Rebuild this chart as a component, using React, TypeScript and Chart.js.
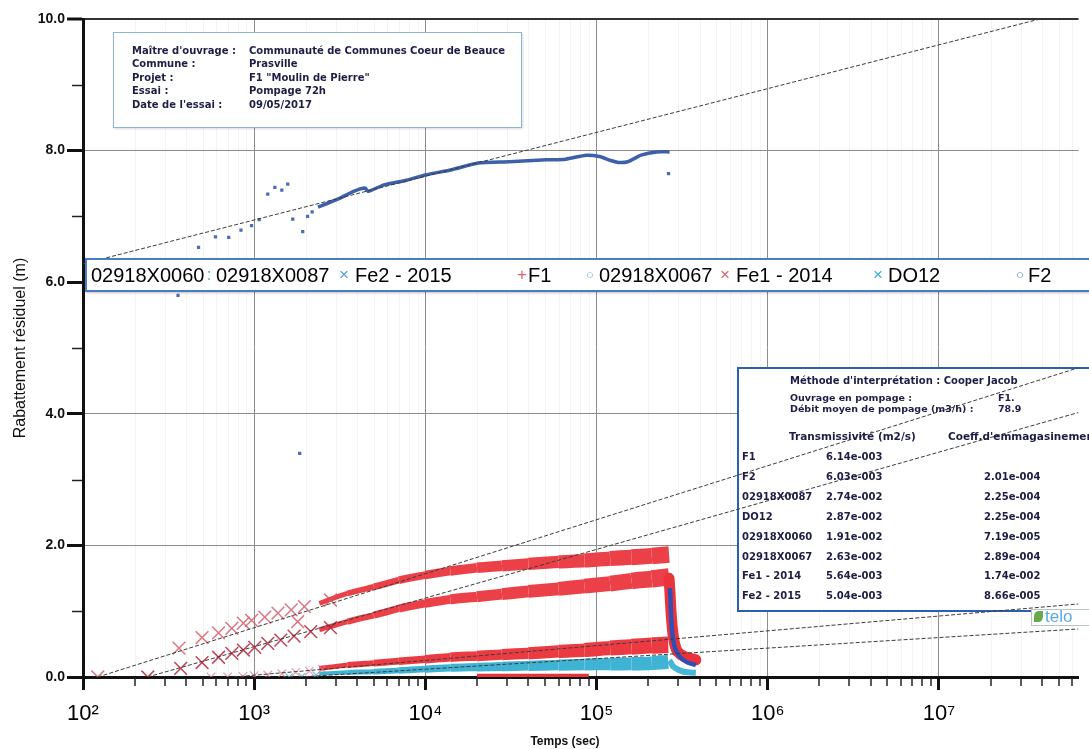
import React, { useEffect, useRef } from 'react';
import { Chart, registerables } from 'chart.js';

Chart.register(...registerables);

// ---------- axes ----------
const xDecades = [1e2, 1e3, 1e4, 1e5, 1e6, 1e7];
const xMin = 100;
const xMax = 6.53e7;
const yTickValues = [0, 1, 2, 3, 4, 5, 6, 7, 8, 9, 10];
const yMin = 0;
const yMax = 10;

// ---------- series names ----------
const seriesNames = ['02918X0060', '02918X0087', 'Fe2 - 2015', 'F1', '02918X0067', 'Fe1 - 2014', 'DO12', 'F2'];

// ---------- 02918X0060 (upper blue series) ----------
const t060Early = [359, 473, 594, 710, 837, 965, 1070, 1200, 1320, 1450, 1570, 1680, 1844, 1920, 2050, 2180, 263000];
const v060Early = [5.8, 6.53, 6.69, 6.68, 6.79, 6.86, 6.95, 7.34, 7.44, 7.40, 7.49, 6.96, 3.4, 6.77, 7.0, 7.07, 7.65];
const t060 = [2360, 3120, 3810, 4440, 4630, 5740, 7760, 10000, 14300, 20400, 30800, 51000, 66000, 87000, 104000, 121000, 134000, 152000, 182000, 224000, 267000];
const v060 = [7.14, 7.27, 7.38, 7.43, 7.38, 7.48, 7.55, 7.63, 7.71, 7.81, 7.83, 7.86, 7.87, 7.93, 7.91, 7.85, 7.82, 7.83, 7.93, 7.98, 7.98];

// ---------- Fe1 - 2014 (upper red crosses) ----------
const tFe1Early = [122, 364, 496, 619, 740, 864, 965, 1153, 1377, 1645, 1794, 1964, 2790];
const vFe1Early = [0, 0.44, 0.60, 0.67, 0.74, 0.82, 0.86, 0.91, 0.97, 1.02, 0.84, 1.07, 1.17];
const tFe1 = [2400, 3500, 5000, 7000, 10000, 14000, 20000, 28000, 40000, 60000, 85000, 120000, 160000, 210000, 265000];
const vFe1 = [1.12, 1.27, 1.37, 1.47, 1.55, 1.61, 1.66, 1.69, 1.72, 1.75, 1.77, 1.80, 1.82, 1.84, 1.86];

// ---------- Fe2 - 2015 (middle red crosses) ----------
const tFe2Early = [239, 372, 496, 619, 740, 864, 1007, 1200, 1430, 1710, 2140, 2790];
const vFe2Early = [0, 0.13, 0.22, 0.30, 0.36, 0.41, 0.45, 0.51, 0.56, 0.62, 0.69, 0.75];
const tFe2 = [2400, 3500, 5000, 7000, 10000, 14000, 20000, 28000, 40000, 60000, 85000, 120000, 160000, 210000, 265000];
const vFe2 = [0.72, 0.84, 0.94, 1.04, 1.12, 1.18, 1.22, 1.26, 1.30, 1.34, 1.38, 1.42, 1.46, 1.49, 1.52];

// ---------- F1 (lower red band) ----------
const tF1Early = [560, 700, 860, 1000, 1200, 1450, 1750, 2100, 2500];
const vF1Early = [0, 0, 0.01, 0.02, 0.03, 0.05, 0.07, 0.09, 0.12];
const tF1 = [2400, 3500, 5000, 7000, 10000, 14000, 20000, 28000, 40000, 60000, 85000, 120000, 160000, 210000, 262000];
const vF1 = [0.13, 0.18, 0.21, 0.24, 0.27, 0.30, 0.32, 0.34, 0.36, 0.39, 0.41, 0.44, 0.46, 0.48, 0.49];
const tF1Zero = [20000, 30000, 45000, 65000, 90000];
const vF1Zero = [0.02, 0.02, 0.02, 0.02, 0.02];

// ---------- DO12 / 02918X0087 (cyan band) ----------
const tDO12Early = [1600, 1900, 2300];
const vDO12Early = [0, 0.01, 0.03];
const tDO12 = [2400, 3500, 5000, 7000, 10000, 14000, 20000, 28000, 40000, 60000, 85000, 120000, 160000, 210000, 262000];
const vDO12 = [0.05, 0.07, 0.08, 0.10, 0.12, 0.14, 0.15, 0.16, 0.17, 0.18, 0.19, 0.195, 0.20, 0.21, 0.23];

// ---------- recovery after pump stop ----------
const tRecF1 = [265000, 268000, 272000, 278000, 286000, 298000, 326000, 380000];
const vRecF1 = [1.50, 1.3, 1.0, 0.7, 0.5, 0.38, 0.31, 0.26];
const tRecF2 = [268000, 270000, 272000, 277000, 287000, 306000, 334000, 380000];
const vRecF2 = [1.35, 1.2, 0.97, 0.66, 0.44, 0.31, 0.23, 0.18];
const tRec067 = [266000, 270000, 280000, 300000, 322000, 350000, 380000];
const vRec067 = [0.25, 0.23, 0.16, 0.11, 0.08, 0.07, 0.065];

// ---------- Cooper-Jacob fit lines ----------
const fitT0 = [100, 122, 238, 760, 1820];
const fitV0 = [6.28, 0, 0, 0, 0];
const fitT1 = [6.53e7, 6.53e7, 6.53e7, 6.53e7, 6.53e7];
const fitV1 = [10.15, 4.7, 4.02, 1.11, 0.73];

// ---------- info boxes ----------
const infoLabels = ["Maître d'ouvrage :", 'Commune :', 'Projet :', 'Essai :', "Date de l'essai :"];
const infoValues = ['Communauté de Communes Coeur de Beauce', 'Prasville', 'F1 "Moulin de Pierre"', 'Pompage 72h', '09/05/2017'];
const resultWells = ['F1', 'F2', '02918X0087', 'DO12', '02918X0060', '02918X0067', 'Fe1 - 2014', 'Fe2 - 2015'];
const resultT = ['6.14e-003', '6.03e-003', '2.74e-002', '2.87e-002', '1.91e-002', '2.63e-002', '5.64e-003', '5.04e-003'];
const resultS = ['', '2.01e-004', '2.25e-004', '2.25e-004', '7.19e-005', '2.89e-004', '1.74e-002', '8.66e-005'];

const SUP: Record<number, string> = { 0: '⁰', 1: '¹', 2: '²', 3: '³', 4: '⁴', 5: '⁵', 6: '⁶', 7: '⁷', 8: '⁸' };

const pts = (t: number[], v: number[]) => t.map((x, i) => ({ x, y: v[i] }));

// band thickness grows with time (style only)
const bandWidth = (k: number) => (ctx: any) => {
  const lt = Math.log10(ctx.p0.parsed.x);
  return Math.max(3, Math.min(20, (5 + 6 * (lt - 3.4)) * k));
};

const decorPlugin = {
  id: 'decor',
  beforeDatasetsDraw(chart: any) {
    const { ctx, chartArea: ca, scales } = chart;
    const x = scales.x;
    ctx.save();
    ctx.strokeStyle = 'rgba(0,0,0,0.045)';
    ctx.lineWidth = 1;
    for (const d of xDecades) {
      for (let m = 2; m <= 9; m++) {
        const v = m * d;
        if (v > x.max) continue;
        const px = Math.round(x.getPixelForValue(v)) + 0.5;
        ctx.beginPath();
        ctx.moveTo(px, ca.top);
        ctx.lineTo(px, ca.bottom);
        ctx.stroke();
      }
    }
    // background of the results box (fit lines pass over it)
    ctx.fillStyle = '#ffffff';
    ctx.fillRect(737, 367, 360, 245);
    ctx.strokeStyle = '#2b5fb3';
    ctx.lineWidth = 2;
    ctx.strokeRect(738, 368, 360, 243);
    ctx.restore();
  },
  afterDraw(chart: any) {
    const { ctx, chartArea: ca, scales } = chart;
    const x = scales.x;
    const y = scales.y;
    ctx.save();
    ctx.strokeStyle = '#222';
    ctx.lineWidth = 1.5;
    for (const d of xDecades) {
      for (let m = 2; m <= 9; m++) {
        const v = m * d;
        if (v > x.max) continue;
        const px = Math.round(x.getPixelForValue(v));
        ctx.beginPath();
        ctx.moveTo(px, ca.bottom + 1);
        ctx.lineTo(px, ca.bottom + 9);
        ctx.stroke();
      }
    }
    for (const v of yTickValues) {
      if (v % 2 === 0) continue;
      const py = Math.round(y.getPixelForValue(v)) + 0.5;
      ctx.beginPath();
      ctx.moveTo(ca.left - 11, py);
      ctx.lineTo(ca.left - 1, py);
      ctx.stroke();
    }
    ctx.restore();
  },
};

const FONT = "'Liberation Sans', Arial, sans-serif";
const BOXFONT = "'DejaVu Sans', Verdana, sans-serif";

export default function App() {
  const ref = useRef<HTMLCanvasElement | null>(null);

  useEffect(() => {
    if (!ref.current) return;
    const fitSets = fitT0.map((t0, i) => ({
      label: 'fit' + i,
      data: [{ x: t0, y: fitV0[i] }, { x: fitT1[i], y: fitV1[i] }],
      showLine: true,
      borderColor: '#3c3c3c',
      borderWidth: 1,
      borderDash: [4, 2],
      pointRadius: 0,
    }));

    const band = (label: string, data: any[], color: string, k: number) => ({
      label, data, showLine: true, borderColor: color, borderWidth: 12, pointRadius: 0,
      tension: 0.25, borderCapStyle: 'butt', borderJoinStyle: 'round',
      segment: { borderWidth: bandWidth(k) },
    });

    const datasets: any[] = [
      ...fitSets,
      { label: 'F2', data: pts(tRecF2, vRecF2), showLine: true, borderColor: '#2f4fb5', borderWidth: 4.5, pointRadius: 0, tension: 0.3 },
      { label: '02918X0067', data: pts(tRec067, vRec067), showLine: true, borderColor: '#47b7d5', borderWidth: 6, pointRadius: 0, tension: 0.3 },
      { label: 'F1 rec', data: pts(tRecF1, vRecF1), showLine: true, borderColor: '#ea333b', borderWidth: 11, pointRadius: 0, tension: 0.3, borderCapStyle: 'round' },
      { label: seriesNames[0], data: pts(t060, v060), showLine: true, borderColor: '#3d60ab', borderWidth: 3.5, pointRadius: 0, tension: 0.2 },
      { label: seriesNames[0] + ' pts', data: pts(t060Early, v060Early), pointStyle: 'rect', pointRadius: 2.3, backgroundColor: '#4a6db5', borderColor: '#4a6db5', borderWidth: 0 },
      { label: 'Fe1 pts', data: pts(tFe1Early, vFe1Early), pointStyle: 'crossRot', pointRadius: 9, borderColor: 'rgba(214,84,98,0.8)', borderWidth: 1.5 },
      { label: 'Fe2 pts', data: pts(tFe2Early, vFe2Early), pointStyle: 'crossRot', pointRadius: 9, borderColor: 'rgba(178,36,56,0.85)', borderWidth: 1.5 },
      { label: 'F1 pts', data: pts(tF1Early, vF1Early), pointStyle: 'crossRot', pointRadius: 6, borderColor: 'rgba(220,120,140,0.7)', borderWidth: 1.2 },
      { label: 'DO12 pts', data: pts(tDO12Early, vDO12Early), pointStyle: 'crossRot', pointRadius: 5, borderColor: 'rgba(80,180,215,0.8)', borderWidth: 1.2 },
      band('Fe1 - 2014', pts(tFe1, vFe1), 'rgb(236,64,72)', 1),
      band('Fe2 - 2015', pts(tFe2, vFe2), 'rgb(236,64,72)', 1.05),
      { label: 'F1 zero', data: pts(tF1Zero, vF1Zero), showLine: true, borderColor: '#e8323a', borderWidth: 4, pointRadius: 0 },
      band('DO12', pts(tDO12, vDO12), '#3fb3d3', 0.85),
      band('F1', pts(tF1, vF1), 'rgb(236,58,66)', 1),
    ];

    const chart = new Chart(ref.current, {
      type: 'scatter',
      data: { datasets },
      plugins: [decorPlugin],
      options: {
        animation: false,
        responsive: false,
        maintainAspectRatio: false,
        devicePixelRatio: 1,
        layout: { padding: { top: 19, right: 0, left: 0, bottom: 0 } },
        plugins: { legend: { display: false }, tooltip: { enabled: false } },
        scales: {
          x: {
            type: 'logarithmic',
            min: xMin,
            max: xMax,
            afterBuildTicks: (s: any) => { s.ticks = xDecades.map((v) => ({ value: v })); },
            afterFit: (s: any) => { s.height = 72; },
            ticks: {
              autoSkip: false,
              maxRotation: 0,
              minRotation: 0,
              padding: 11,
              color: '#000',
              font: { family: FONT, size: 22 },
              callback: (v: any) => '10' + SUP[Math.round(Math.log10(Number(v)))],
            },
            grid: { color: '#8c8c8c', lineWidth: 1, tickColor: '#111', tickWidth: 3, tickLength: 13, drawTicks: true },
            border: { color: '#111', width: 3 },
          },
          y: {
            type: 'linear',
            min: yMin,
            max: yMax,
            afterBuildTicks: (s: any) => { s.ticks = yTickValues.map((v) => ({ value: v })); },
            afterFit: (s: any) => { s.width = 83; },
            ticks: {
              autoSkip: false,
              padding: 2,
              color: '#111',
              font: { family: FONT, size: 14, weight: 'bold' },
              callback: (v: any) => (Number(v) % 2 === 0 ? Number(v).toFixed(1) : ''),
            },
            grid: {
              color: (c: any) => (c.tick && c.tick.value % 2 === 0 ? (c.tick.value === 10 ? '#333' : '#8c8c8c') : 'rgba(0,0,0,0)'),
              lineWidth: (c: any) => (c.tick && c.tick.value === 10 ? 2 : 1),
              tickColor: (c: any) => (c.tick && c.tick.value % 2 === 0 ? '#111' : 'rgba(0,0,0,0)'),
              tickWidth: 3,
              tickLength: 16,
            },
            border: { color: '#111', width: 3 },
            title: {
              display: true,
              text: 'Rabattement résiduel (m)',
              color: '#111',
              font: { family: FONT, size: 16 },
              padding: { top: 11, bottom: 0 },
            },
          },
        },
      } as any,
    });
    return () => chart.destroy();
  }, []);

  const legendItems = [
    { name: seriesNames[0], marker: '', mColor: '#000', mx: 0, tx: 91 },
    { name: seriesNames[1], marker: ':', mColor: '#4fb6a2', mx: 209, tx: 216 },
    { name: seriesNames[2], marker: '×', mColor: '#5b9bd5', mx: 344, tx: 355 },
    { name: seriesNames[3], marker: '+', mColor: '#e06070', mx: 522, tx: 528 },
    { name: seriesNames[4], marker: '○', mColor: '#5ab4e0', mx: 590, tx: 599 },
    { name: seriesNames[5], marker: '×', mColor: '#e06070', mx: 725, tx: 736 },
    { name: seriesNames[6], marker: '×', mColor: '#3ab0d8', mx: 878, tx: 888 },
    { name: seriesNames[7], marker: '○', mColor: '#3a70c0', mx: 1020, tx: 1028 },
  ];

  const abs = (extra: React.CSSProperties): React.CSSProperties => ({ position: 'absolute', whiteSpace: 'nowrap', ...extra });
  const boxText: React.CSSProperties = { fontFamily: BOXFONT, fontWeight: 'bold', fontSize: 10, color: '#1d1d45', lineHeight: '12px' };

  return (
    <div style={{ position: 'absolute', left: 0, top: 0, width: 1089, height: 749, overflow: 'hidden', background: '#fff' }}>
      <canvas ref={ref} width={1089} height={749} style={{ position: 'absolute', left: 0, top: 0, width: 1089, height: 749 }} />

      {/* project info box */}
      <div style={abs({ left: 113, top: 32, width: 409, height: 96, border: '1px solid #8db4dd', background: '#fff', boxSizing: 'border-box', boxShadow: '1px 1px 2px rgba(0,0,0,0.15)' })} />
      {infoLabels.map((l, i) => (
        <div key={'il' + i} style={abs({ ...boxText, left: 132, top: 45 + i * 13.4 })}>{l}</div>
      ))}
      {infoValues.map((l, i) => (
        <div key={'iv' + i} style={abs({ ...boxText, left: 249, top: 45 + i * 13.4 })}>{l}</div>
      ))}

      {/* legend */}
      <div style={abs({ left: 85, top: 258, width: 1020, height: 34, border: '2px solid #4a7cc4', background: '#fff', boxSizing: 'border-box', boxShadow: '1px 1px 2px rgba(0,0,0,0.25)' })} />
      {legendItems.map((it, i) => (
        <React.Fragment key={'lg' + i}>
          {it.marker ? (
            <div style={abs({ left: it.mx - 6, top: 265, width: 12, textAlign: 'center', fontFamily: FONT, fontSize: it.marker === '○' ? 13 : 17, lineHeight: '20px', color: it.mColor })}>{it.marker}</div>
          ) : null}
          <div style={abs({ left: it.tx, top: 265, fontFamily: FONT, fontSize: 20, lineHeight: '20px', color: '#000' })}>{it.name}</div>
        </React.Fragment>
      ))}

      {/* results box texts (box background drawn on canvas) */}
      <div style={abs({ ...boxText, left: 790, top: 375 })}>Méthode d'interprétation : Cooper Jacob</div>
      <div style={abs({ ...boxText, fontSize: 9.5, left: 790, top: 392 })}>Ouvrage en pompage :</div>
      <div style={abs({ ...boxText, fontSize: 9.5, left: 998, top: 392 })}>F1.</div>
      <div style={abs({ ...boxText, fontSize: 9.5, left: 790, top: 403 })}>Débit moyen de pompage (m3/h) :</div>
      <div style={abs({ ...boxText, fontSize: 9.5, left: 998, top: 403 })}>78.9</div>
      <div style={abs({ ...boxText, fontSize: 10.5, left: 789, top: 430 })}>Transmissivité (m2/s)</div>
      <div style={abs({ ...boxText, fontSize: 10.5, left: 948, top: 430 })}>Coeff.d'emmagasinement</div>
      {resultWells.map((w, i) => (
        <React.Fragment key={'rw' + i}>
          <div style={abs({ ...boxText, left: 742, top: 451 + i * 19.9 })}>{w}</div>
          <div style={abs({ ...boxText, left: 826, top: 451 + i * 19.9 })}>{resultT[i]}</div>
          {resultS[i] ? <div style={abs({ ...boxText, left: 984, top: 451 + i * 19.9 })}>{resultS[i]}</div> : null}
        </React.Fragment>
      ))}

      {/* logo */}
      <div style={abs({ left: 1031, top: 609, width: 70, height: 17, border: '1px solid #b8c4c8', background: '#fff', boxSizing: 'border-box' })} />
      <div style={abs({ left: 1034, top: 611, width: 9, height: 11, background: '#6aa84f', borderRadius: '50% 0 50% 0' })} />
      <div style={abs({ left: 1045, top: 607, fontFamily: FONT, fontSize: 17, lineHeight: '20px', color: '#5aa9e6' })}>telo</div>

      {/* x axis title */}
      <div style={abs({ left: 565, top: 734, transform: 'translateX(-50%)', fontFamily: FONT, fontWeight: 'bold', fontSize: 12, lineHeight: '14px', color: '#111' })}>Temps (sec)</div>
    </div>
  );
}
